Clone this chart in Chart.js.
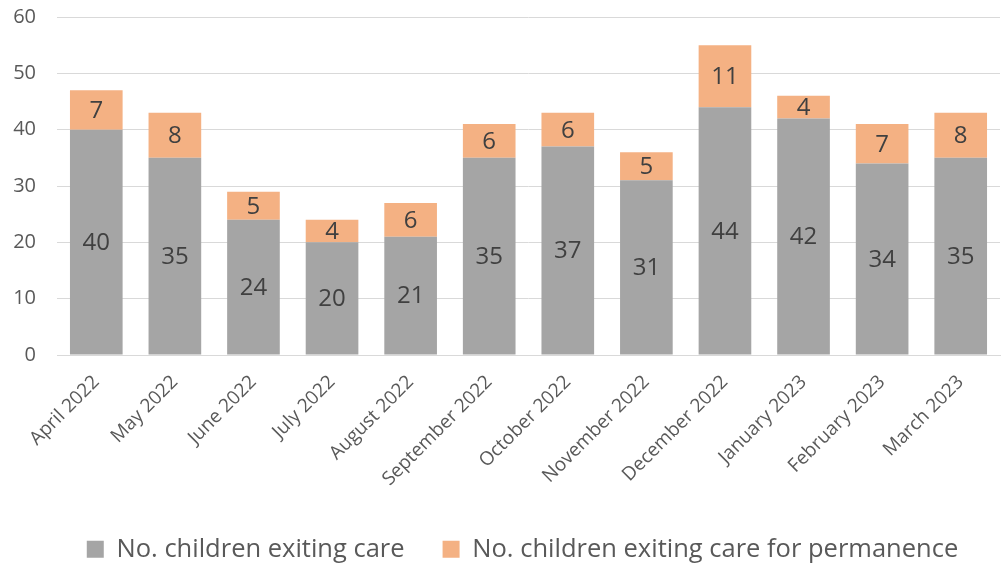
<!DOCTYPE html>
<html>
<head>
<meta charset="utf-8">
<script src="https://cdn.jsdelivr.net/npm/chart.js@4"></script>
<style>
    html, body { margin: 0; padding: 0; background: #fff; }
    #wrap { width: 1001px; height: 572px; position: relative; }
</style>
</head>
<body>
<div id="wrap"><canvas id="exitplot"></canvas></div>
<script>
var months = ["April 2022", "May 2022", "June 2022", "July 2022", "August 2022", "September 2022",
    "October 2022", "November 2022", "December 2022", "January 2023", "February 2023", "March 2023"];
var exitingCare = [40, 35, 24, 20, 21, 35, 37, 31, 44, 42, 34, 35];
var exitingPermanence = [7, 8, 5, 4, 6, 6, 6, 5, 11, 4, 7, 8];
var yTicks = [0, 10, 20, 30, 40, 50, 60];

var FONT = "'Open Sans', 'Noto Sans', sans-serif";

// draws each value in the middle of its bar segment
var barLabels = {
    id: "barLabels",
    afterDatasetsDraw: function (chart) {
        var ctx = chart.ctx;
        ctx.save();
        ctx.font = "24px " + FONT;
        ctx.fillStyle = "#404040";
        ctx.textAlign = "center";
        ctx.textBaseline = "middle";
        chart.data.datasets.forEach(function (ds, i) {
            chart.getDatasetMeta(i).data.forEach(function (bar, j) {
                var mid = (bar.y + bar.base) / 2;
                ctx.fillText(ds.data[j], bar.x, mid + 1);
            });
        });
        ctx.restore();
    }
};

// the original legend sits a little right of centre
var legendShift = {
    id: "legendShift",
    afterLayout: function (chart) {
        if (chart.legend) {
            chart.legend.left += 16;
            chart.legend.right += 16;
        }
    }
};

var ctx = document.getElementById("exitplot").getContext("2d");
var myChart = new Chart(ctx, {
    type: "bar",
    data: {
        labels: months,
        datasets: [
            {
                label: "No. children exiting care",
                data: exitingCare,
                backgroundColor: "#a5a5a5"
            },
            {
                label: "No. children exiting care for permanence",
                data: exitingPermanence,
                backgroundColor: "#f4b183"
            }
        ]
    },
    options: {
        responsive: true,
        maintainAspectRatio: false,
        animation: false,
        categoryPercentage: 1,
        barPercentage: 0.67,
        layout: { padding: { top: 17, right: 1, left: 13, bottom: 0 } },
        plugins: {
            tooltip: { enabled: false },
            legend: {
                position: "bottom",
                labels: {
                    font: { family: FONT, size: 25.5 },
                    color: "#595959",
                    boxWidth: 17,
                    boxHeight: 17,
                    padding: 38
                }
            }
        },
        scales: {
            x: {
                stacked: true,
                grid: { display: false },
                border: { color: "#d9d9d9", width: 1 },
                afterFit: function (axis) {
                    // let the rotated first label hang left of the plot
                    axis.paddingLeft = 0;
                    axis.paddingRight = 0;
                },
                ticks: {
                    font: { family: FONT, size: 19 },
                    color: "#595959",
                    minRotation: 45,
                    maxRotation: 45,
                    padding: 8
                }
            },
            y: {
                stacked: true,
                min: 0,
                max: 60,
                afterBuildTicks: function (axis) {
                    axis.ticks = yTicks.map(function (v) { return { value: v }; });
                },
                afterFit: function (axis) {
                    axis.paddingTop = 0;
                    axis.paddingBottom = 0;
                    axis.width = 44;
                },
                grid: { color: "#d9d9d9", lineWidth: 1, drawTicks: false },
                border: { display: false },
                ticks: {
                    font: { family: FONT, size: 20 },
                    color: "#595959",
                    padding: 21
                }
            }
        }
    },
    plugins: [barLabels, legendShift]
});
</script>
</body>
</html>
